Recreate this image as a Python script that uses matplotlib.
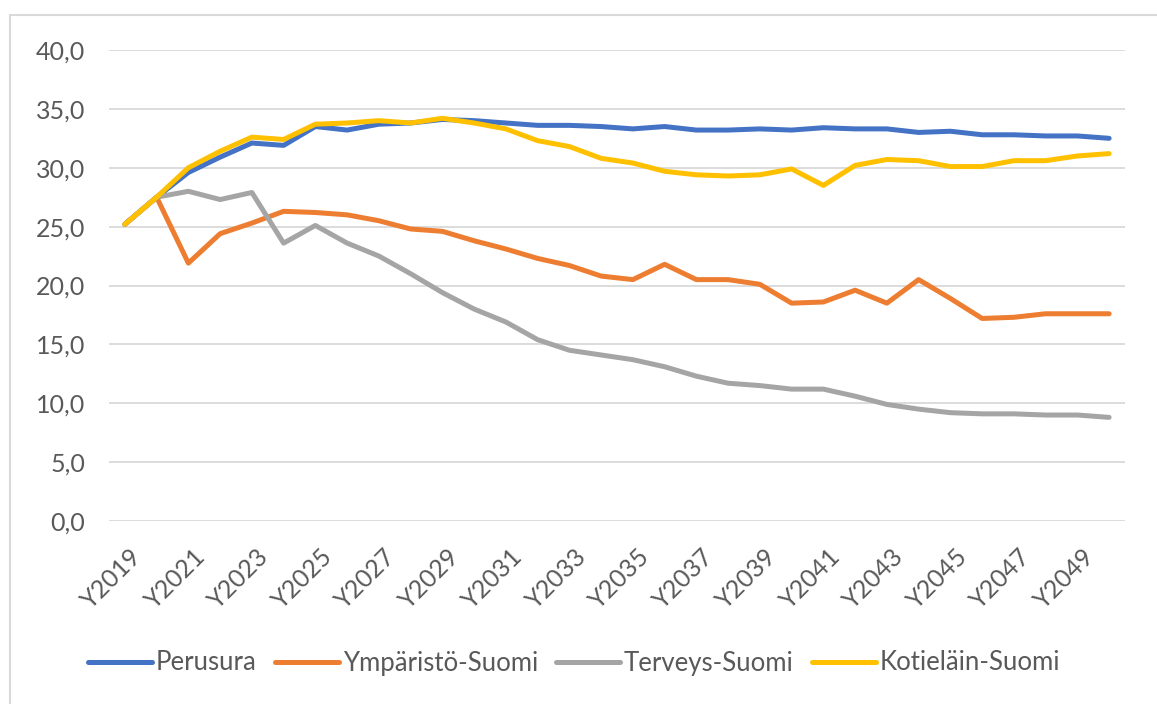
import numpy as np
import matplotlib
matplotlib.use("Agg")
import matplotlib.pyplot as plt
from matplotlib.patches import Rectangle
from matplotlib.transforms import ScaledTranslation

# ---------------------------------------------------------------
# data
# ---------------------------------------------------------------
years = [f"Y{y}" for y in range(2019, 2051)]

perusura = [25.2, 27.5, 29.6, 30.9, 32.1, 31.9, 33.5, 33.2, 33.7, 33.8,
            34.1, 34.0, 33.8, 33.6, 33.6, 33.5, 33.3, 33.5, 33.2, 33.2,
            33.3, 33.2, 33.4, 33.3, 33.3, 33.0, 33.1, 32.8, 32.8, 32.7,
            32.7, 32.5]
ymparisto = [25.2, 27.5, 21.9, 24.4, 25.3, 26.3, 26.2, 26.0, 25.5, 24.8,
             24.6, 23.8, 23.1, 22.3, 21.7, 20.8, 20.5, 21.8, 20.5, 20.5,
             20.1, 18.5, 18.6, 19.6, 18.5, 20.5, 18.9, 17.2, 17.3, 17.6,
             17.6, 17.6]
terveys = [25.2, 27.5, 28.0, 27.3, 27.9, 23.6, 25.1, 23.6, 22.5, 21.0,
           19.4, 18.0, 16.9, 15.4, 14.5, 14.1, 13.7, 13.1, 12.3, 11.7,
           11.5, 11.2, 11.2, 10.6, 9.9, 9.5, 9.2, 9.1, 9.1, 9.0,
           9.0, 8.8]
kotielain = [25.2, 27.5, 30.0, 31.4, 32.6, 32.4, 33.7, 33.8, 34.0, 33.8,
             34.2, 33.8, 33.3, 32.3, 31.8, 30.8, 30.4, 29.7, 29.4, 29.3,
             29.4, 29.9, 28.5, 30.2, 30.7, 30.6, 30.1, 30.1, 30.6, 30.6,
             31.0, 31.2]

series_names = ["Perusura", "Ympäristö-Suomi", "Terveys-Suomi", "Kotieläin-Suomi"]
series_colors = ["#4472C4", "#ED7D31", "#A5A5A5", "#FFC000"]

# ---------------------------------------------------------------
# plot
# ---------------------------------------------------------------
plt.rcParams["font.family"] = ["Lato", "DejaVu Sans"]
text_col = "#595959"

fig = plt.figure(figsize=(11.57, 7.04), dpi=100)
ax = fig.add_axes([109 / 1157, 1 - 521 / 704, 1016 / 1157, 471 / 704])

x = np.arange(len(years))
for vals, name, col in zip([perusura, ymparisto, terveys, kotielain],
                           series_names, series_colors):
    ax.plot(x, vals, color=col, lw=3.6, label=name,
            solid_capstyle="round", solid_joinstyle="round")

ax.set_xlim(-0.5, len(years) - 0.5)
ax.set_ylim(0, 40)
ax.set_yticks(np.arange(0, 41, 5))
ax.set_yticklabels([f"{v:.1f}".replace(".", ",") for v in np.arange(0, 41, 5)],
                   fontsize=18, color=text_col)
ax.set_xticks(x[::2])
ax.set_xticklabels(years[::2], rotation=45, ha="right", va="top",
                   rotation_mode="anchor", fontsize=18, color=text_col)
ax.tick_params(axis="y", length=0, pad=17)
ax.tick_params(axis="x", length=0, pad=17)
# Excel puts the rotated labels a little right of the category centre
shift = ScaledTranslation(5 / 100, 0, fig.dpi_scale_trans)
for lab in ax.get_xticklabels():
    lab.set_transform(lab.get_transform() + shift)

ax.grid(axis="y", color="#D9D9D9", lw=1.3)
ax.set_axisbelow(True)
for s in ax.spines.values():
    s.set_visible(False)

fig.legend(loc="center", bbox_to_anchor=(574 / 1157, 1 - 663 / 704), ncol=4,
           frameon=False, fontsize=18.5, handlelength=2.5, handletextpad=0.15,
           columnspacing=0.7, labelcolor=text_col)

# light frame round the chart
fig.patches.append(Rectangle((10 / 1157, -0.01), 1.0, 1 - 15 / 704 + 0.01,
                             transform=fig.transFigure, fill=False,
                             edgecolor="#D9D9D9", lw=1.5))

fig.savefig("out.png", dpi=100)
